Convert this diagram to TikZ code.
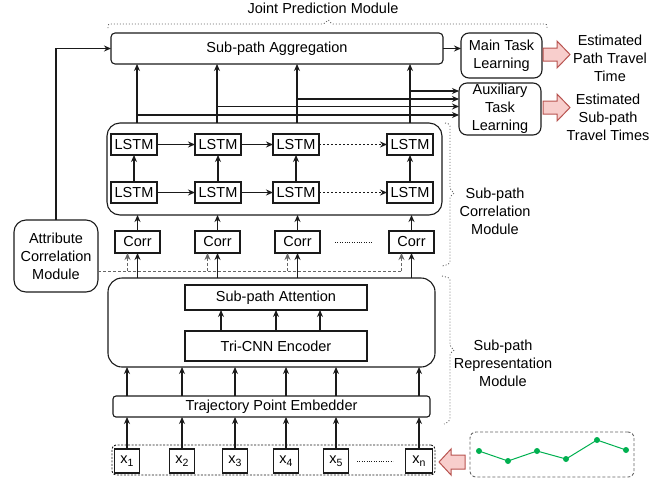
\documentclass[tikz,border=0pt]{standalone}
\usepackage{fontspec}
\setmainfont{Liberation Sans}
\usetikzlibrary{arrows.meta}
\definecolor{linec}{HTML}{1A1A1A}
\definecolor{dashc}{HTML}{666666}
\definecolor{redf}{HTML}{F8CECC}
\definecolor{redd}{HTML}{B85450}
\definecolor{greenl}{HTML}{00B050}
\newcommand{\xsub}[1]{x\raisebox{-3.5pt}{\fontsize{10.5}{10.5}\selectfont #1}}
\begin{document}
\begin{tikzpicture}[x=1pt,y=-1pt,
  font=\fontsize{14.5}{18}\selectfont,
  every node/.style={inner sep=0pt, outer sep=0pt, align=center, text=black},
  rbox/.style={draw=linec, line width=1.1pt, rounded corners=4pt},
  bigbox/.style={draw=linec, line width=1.1pt, rounded corners=13pt},
  sbox/.style={draw=linec, line width=1.1pt},
  arr/.style={draw=linec, line width=1.1pt, -{Stealth[length=7pt,width=6pt]}},
  dline/.style={draw=dashc, line width=0.9pt, dash pattern=on 3pt off 2pt},
  darr/.style={dline, -{Stealth[length=7pt,width=6pt]}},
  brk/.style={draw=dashc, line width=0.9pt, dash pattern=on 1pt off 2pt},
  dots/.style={draw=linec, line width=1pt, dash pattern=on 1pt off 1.4pt},
  blockarr/.style={fill=redf, draw=redd, line width=1pt, line join=miter}
]
\useasboundingbox (0,0) rectangle (671,480);

% ---- top-level nodes
\node[rbox, minimum width=332pt, minimum height=31pt] (agg) at (277,48.5) {Sub-path Aggregation};
\node[rbox, rounded corners=8pt, minimum width=81pt, minimum height=45pt] (main) at (501.5,55.5) {Main Task\\Learning};
\node[rbox, rounded corners=8pt, minimum width=82pt, minimum height=52pt] (aux) at (500,109) {Auxiliary\\Task\\Learning};

\node (est1) at (610,58) {Estimated\\Path Travel\\Time};
\node (est2) at (608,117) {Estimated\\Sub-path\\Travel Times};
\node (jpm) at (323,8) {Joint Prediction Module};

% ---- LSTM container
\node[bigbox, minimum width=335pt, minimum height=92pt] (lstmC) at (274.5,169) {};
\foreach \c/\x in {1/134,2/218,3/296,4/410}{
  \node[sbox, minimum width=46pt, minimum height=21pt] (la\c) at (\x,144.5) {LSTM};
  \node[sbox, minimum width=46pt, minimum height=21pt] (lb\c) at (\x,192.5) {LSTM};
  \draw[arr] (lb\c) -- (la\c);
}
\draw[arr] (la1) -- (la2);
\draw[arr] (la2) -- (la3);
\draw[arr, dash pattern=on 2pt off 2pt] (la3) -- (la4);
\draw[arr] (lb1) -- (lb2);
\draw[arr] (lb2) -- (lb3);
\draw[arr, dash pattern=on 2pt off 2pt] (lb3) -- (lb4);

% ---- arrows to aggregation and auxiliary
\foreach \c/\x in {1/137,2/217,3/297,4/410}{
  \coordinate (top\c) at (\x,123);
  \draw[arr] (top\c) -- (top\c |- agg.south);
}
\draw[arr] (top4 |- 0,91) -- (aux.west |- 0,91);
\draw[arr] (top3 |- 0,99) -- (aux.west |- 0,99);
\draw[arr] (top2 |- 0,106.5) -- (aux.west |- 0,106.5);
\draw[arr] (top1 |- 0,115) -- (aux.west |- 0,115);
\draw[arr] (agg.east) -- (agg.east -| main.west);

% ---- red block arrows
\draw[blockarr] (543,48) -- (557,48) -- (557,41) -- (570,54.5) -- (557,68) -- (557,61) -- (543,61) -- cycle;
\draw[blockarr] (543,101) -- (557,101) -- (557,94) -- (570,107.5) -- (557,121) -- (557,114) -- (543,114) -- cycle;

% ---- Corr boxes
\foreach \c/\x in {1/137.5,2/217.5,3/297.5,4/411.5}{
  \node[sbox, minimum width=45pt, minimum height=22pt] (corr\c) at (\x,242) {Corr};
  \draw[arr] (corr\c.north) -- (corr\c.north |- lstmC.south);
}
\draw[dots] (335,242) -- (372,242);

% ---- attribute correlation module
\node[bigbox, rounded corners=12pt, minimum width=84pt, minimum height=72pt] (attr) at (56,256) {Attribute\\Correlation\\Module};
\draw[arr] (attr.north) |- (agg.west);
\draw[dline] (attr.east |- 0,271) -- (402,271);

% ---- representation module
\node[bigbox, rounded corners=14pt, minimum width=327pt, minimum height=89pt] (rep) at (271.5,322.5) {};
\node[sbox, minimum width=182pt, minimum height=25pt] (att) at (276,297.5) {Sub-path Attention};
\node[sbox, minimum width=182pt, minimum height=30pt] (tri) at (276,346) {Tri-CNN Encoder};
\foreach \x in {221,276,320}{
  \draw[arr] (\x,331) -- (\x,310);
}
\foreach \c in {1,2,3,4}{
  \draw[darr] ([xshift=-10pt]corr\c.south |- 0,271) -- ([xshift=-10pt]corr\c.south);
  \draw[arr] (corr\c.south |- rep.north) -- (corr\c.south);
}

% ---- embedder
\node[rbox, rounded corners=3pt, minimum width=317pt, minimum height=21pt] (emb) at (271.5,406.5) {Trajectory Point Embedder};

% ---- inputs
\node[rbox, dash pattern=on 2pt off 1.5pt, draw=linec, line width=0.9pt, minimum width=323pt, minimum height=30pt] (xc) at (273.5,460) {};
\foreach \c/\x in {1/127,2/182,3/235,4/286,5/336}{
  \node[sbox, minimum width=25pt, minimum height=24pt] (x\c) at (\x,461) {\xsub{\c}};
  \draw[arr] (x\c.north) -- (x\c.north |- emb.south);
  \draw[arr] (x\c.north |- emb.north) -- (x\c.north |- rep.south);
}
\node[sbox, minimum width=27pt, minimum height=24pt] (xn) at (419,461) {\xsub{n}};
\draw[arr] (xn.north) -- (xn.north |- emb.south);
\draw[arr] (xn.north |- emb.north) -- (xn.north |- rep.south);
\draw[dots] (357,461) -- (393,461);

% ---- left red arrow
\draw[blockarr] (465,455) -- (451,455) -- (451,449) -- (439,462) -- (451,475) -- (451,469) -- (465,469) -- cycle;

% ---- trajectory
\node[rbox, rounded corners=6pt, draw=dashc, line width=0.9pt, dash pattern=on 3pt off 2pt, minimum width=164pt, minimum height=45pt] (traj) at (552,454.5) {};
\draw[greenl, line width=1pt] (479,451) -- (508,461) -- (537,451) -- (566,459) -- (597,440) -- (626,450);
\foreach \p in {(479,451),(508,461),(537,451),(566,459),(597,440),(626,450)}{
  \fill[greenl] \p circle (3pt);
}

% ---- brackets
\draw[brk, rounded corners=2pt] (108,28) -- (108,24) -- (325,24) -- (328,19) -- (331,24) -- (547,24) -- (547,28);
\draw[brk, rounded corners=2pt] (445,123) -- (450,124) -- (450,190) -- (455,193) -- (450,196) -- (450,264) -- (442,266);
\draw[brk, rounded corners=2pt] (442,276) -- (450,278) -- (450,347) -- (455,350) -- (450,353) -- (450,421) -- (444,424);

\node (scm) at (495,211) {Sub-path\\Correlation\\Module};
\node (srm) at (503,363) {Sub-path\\Representation\\Module};
\end{tikzpicture}
\end{document}
